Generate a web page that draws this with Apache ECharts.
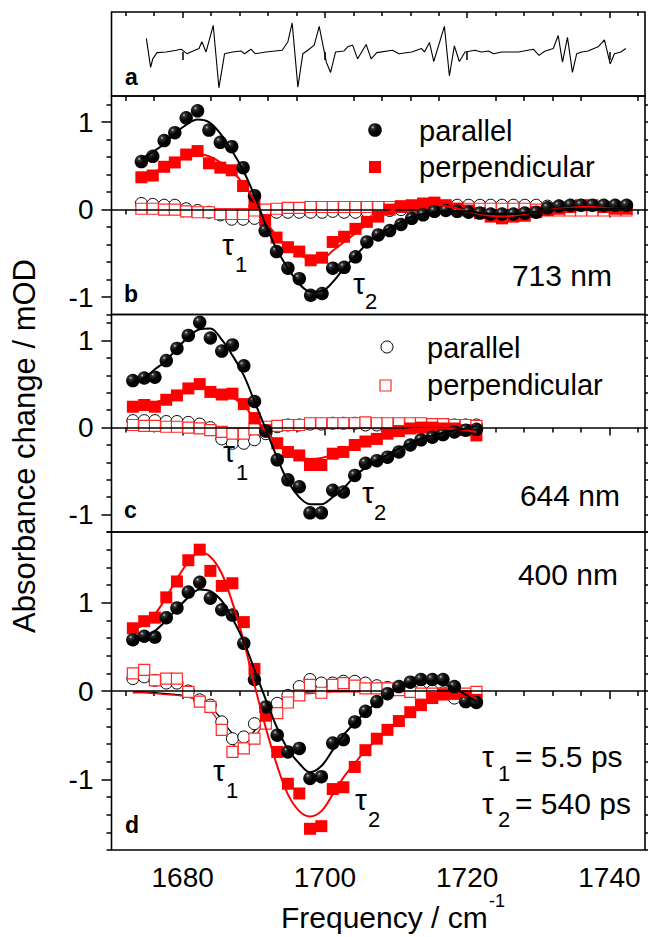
<!DOCTYPE html>
<html>
<head>
<meta charset="utf-8">
<script src="https://cdn.jsdelivr.net/npm/echarts@6/dist/echarts.min.js"></script>
<style>
  html, body { margin: 0; padding: 0; background: #fff; }
  #chart { width: 648px; height: 937px; }
</style>
</head>
<body>
<div id="chart"></div>
<script>
// ---------- axis ranges and ticks ----------
const freqMin = 1670, freqMax = 1745;
const freqMajor = [1680, 1700, 1720, 1740];
const freqMinor = [1672, 1676, 1684, 1688, 1692, 1696, 1704, 1708, 1712, 1716, 1724, 1728, 1732, 1736, 1744];
const yMajor = [-1, 0, 1];
const yMinorBC = [-1.2, -0.8, -0.6, -0.4, -0.2, 0.2, 0.4, 0.6, 0.8, 1.2];
const yMinorD = [-1.8, -1.6, -1.4, -1.2, -0.8, -0.6, -0.4, -0.2, 0.2, 0.4, 0.6, 0.8, 1.2, 1.4, 1.6, 1.8];

// ---------- (a) FTIR derivative trace ----------
const aFreq = [1674.9, 1675.5, 1675.8, 1676.4, 1677.7, 1679.1, 1679.8, 1680.6, 1681.4, 1682.3, 1682.7, 1683.3,
  1684.3, 1685.1, 1685.9, 1687.0, 1688.2, 1688.7, 1689.6, 1690.2, 1691.7, 1694.0, 1694.8, 1695.4, 1696.2,
  1696.9, 1697.6, 1698.5, 1699.2, 1700.2, 1700.8, 1701.5, 1702.7, 1703.2, 1703.9, 1704.6, 1705.8, 1706.5,
  1707.3, 1709.5, 1710.4, 1712.2, 1713.6, 1714.0, 1714.7, 1715.3, 1716.8, 1717.5, 1718.2, 1718.9, 1719.7,
  1721.1, 1722.0, 1723.0, 1723.7, 1724.9, 1727.2, 1729.3, 1730.1, 1730.9, 1732.1, 1732.8, 1733.4, 1734.1,
  1734.8, 1735.4, 1736.1, 1737.0, 1738.4, 1739.3, 1740.1, 1740.7, 1741.6, 1742.3];
const aVal = [1.33, -1.5, -0.67, -0.07, 0, 0.17, 0.27, -0.17, 0.07, 0.33, 1.0, 0,
  2.6, -3.5, -0.17, 0, 0.1, -0.17, 0.27, -0.17, 0, 0.17, 1.0, 2.83, -3.43,
  -0.17, 0.17, 0.67, 2.5, -1.0, -2.0, 0, 0.1, 0.5, 0.67, -0.67, 0.73, -0.67,
  -0.07, 0.17, -0.17, 0, 0.33, 0, 0.93, -0.93, 2.5, -2.33, 0.6, -0.93, 0,
  0.17, 0, 0.1, -0.17, 0, 0, 0.27, -0.33, 0.07, 0.33, 1.6, -1.0, 1.43,
  -2.0, -0.17, 0, 0.1, 0.5, 1.17, -1.17, -0.17, 0, 0.33];

// ---------- (b) 713 nm ----------
const bFreq = [1674.2, 1675.8, 1677.4, 1678.9, 1680.5, 1682.1, 1683.7, 1685.3, 1686.9, 1688.5,
  1690.1, 1691.6, 1693.2, 1694.8, 1696.4, 1698.0, 1699.6, 1701.1, 1702.7, 1704.3,
  1705.9, 1707.5, 1709.1, 1710.7, 1712.2, 1713.8, 1715.4, 1717.0, 1718.6, 1720.2,
  1721.8, 1723.3, 1724.9, 1726.5, 1728.1, 1729.7, 1731.3, 1732.9, 1734.5, 1736.0,
  1737.6, 1739.2, 1740.8, 1742.4];
const bPar = [0.55, 0.61, 0.79, 0.88, 1.05, 1.13, 0.91, 0.77, 0.72, 0.48,
  0.16, -0.24, -0.48, -0.67, -0.79, -0.98, -0.96, -0.67, -0.66, -0.54,
  -0.37, -0.29, -0.24, -0.17, -0.10, -0.06, -0.02, -0.01, -0.02, -0.03,
  -0.04, -0.05, -0.05, -0.05, -0.04, -0.03, 0.02, 0.04, 0.05, 0.05,
  0.05, 0.05, 0.05, 0.05];
const bPerp = [0.37, 0.39, 0.49, 0.54, 0.63, 0.67, 0.53, 0.48, 0.45, 0.27,
  0.07, -0.12, -0.32, -0.43, -0.48, -0.58, -0.55, -0.37, -0.31, -0.22,
  -0.14, -0.08, 0.0, 0.03, 0.05, 0.07, 0.08, 0.05, 0.01, -0.01,
  -0.04, -0.08, -0.10, -0.08, -0.07, -0.03, -0.01, 0.01, 0.03, 0.05,
  0.05, 0.03, 0.01, 0.01];
const bParT1 = [0.07, 0.06, 0.05, 0.05, 0.01, -0.01, -0.03, -0.06, -0.11, -0.11,
  -0.10, -0.05, -0.03, -0.03, -0.03, -0.03, -0.03, -0.02, -0.03, -0.03,
  -0.02, -0.02, -0.01, 0.0, 0.01, 0.02, 0.03, 0.04, 0.05, 0.05,
  0.05, 0.05, 0.05, 0.05, 0.05, 0.05, 0.04, 0.04, 0.04, 0.04,
  0.03, 0.03, 0.03, 0.03];
const bPerpT1 = [0.01, 0.01, 0.0, 0.0, -0.02, -0.03, -0.03, -0.05, -0.05, -0.05,
  -0.01, 0.0, 0.01, 0.02, 0.02, 0.03, 0.03, 0.03, 0.03, 0.03,
  0.03, 0.03, 0.03, 0.04, 0.04, 0.03, 0.03, 0.02, 0.01, 0.01,
  0.01, 0.01, 0.01, 0.01, 0.01, 0.0, 0.0, -0.01, -0.01, -0.01,
  -0.01, -0.01, -0.01, -0.01];
const bParFit = [0.58, 0.66, 0.75, 0.87, 0.97, 1.03, 1.00, 0.87, 0.68, 0.45,
  0.16, -0.16, -0.45, -0.67, -0.85, -0.94, -0.93, -0.83, -0.67, -0.53,
  -0.39, -0.29, -0.21, -0.14, -0.08, -0.05, -0.03, -0.02, -0.02, -0.02,
  -0.04, -0.05, -0.05, -0.05, -0.04, -0.03, -0.01, 0.0, 0.01, 0.01,
  0.01, 0.01, 0.01, 0.01];
const bPerpFit = [0.38, 0.42, 0.49, 0.56, 0.62, 0.64, 0.61, 0.54, 0.44, 0.30,
  0.10, -0.12, -0.30, -0.43, -0.52, -0.56, -0.56, -0.47, -0.37, -0.27,
  -0.17, -0.09, -0.02, 0.03, 0.05, 0.06, 0.06, 0.04, 0.01, -0.02,
  -0.05, -0.07, -0.08, -0.07, -0.05, -0.03, -0.01, 0.01, 0.02, 0.03,
  0.03, 0.02, 0.01, 0.01];

// ---------- (c) 644 nm and (d) 400 nm share one frequency grid ----------
const cdFreq = [1673.0, 1674.6, 1676.1, 1677.7, 1679.2, 1680.8, 1682.4, 1683.9, 1685.5, 1687.0,
  1688.6, 1690.1, 1691.7, 1693.3, 1694.8, 1696.4, 1697.9, 1699.5, 1701.1, 1702.6,
  1704.2, 1705.7, 1707.3, 1708.8, 1710.4, 1712.0, 1713.5, 1715.1, 1716.6, 1718.2,
  1719.8, 1721.3];

const cPar = [0.54, 0.57, 0.58, 0.77, 0.91, 1.06, 1.21, 1.03, 0.88, 0.95,
  0.71, 0.30, -0.04, -0.37, -0.60, -0.68, -0.98, -0.98, -0.72, -0.74,
  -0.55, -0.41, -0.38, -0.34, -0.28, -0.20, -0.14, -0.11, -0.08, -0.05,
  -0.03, -0.02];
const cPerp = [0.24, 0.26, 0.24, 0.32, 0.37, 0.45, 0.50, 0.41, 0.38, 0.39,
  0.27, 0.11, -0.03, -0.18, -0.28, -0.32, -0.43, -0.43, -0.30, -0.28,
  -0.20, -0.16, -0.13, -0.07, -0.04, -0.01, 0.0, 0.0, -0.01, -0.01,
  -0.03, -0.09];
const cParT1 = [0.08, 0.08, 0.08, 0.07, 0.07, 0.06, 0.04, 0.0, -0.13, -0.18,
  -0.18, -0.14, -0.07, 0.01, 0.03, 0.03, 0.04, 0.04, 0.05, 0.05,
  0.05, 0.03, 0.03, 0.03, 0.03, 0.03, 0.03, 0.03, 0.03, 0.03,
  0.03, 0.03];
const cPerpT1 = [0.03, 0.02, 0.02, 0.01, 0.01, 0.0, -0.01, -0.03, -0.05, -0.07,
  -0.07, -0.02, 0.01, 0.02, 0.03, 0.03, 0.05, 0.05, 0.05, 0.05,
  0.05, 0.06, 0.05, 0.05, 0.05, 0.05, 0.05, 0.04, 0.04, 0.03,
  0.03, 0.02];
const cParFit = [0.52, 0.57, 0.67, 0.77, 0.91, 1.04, 1.13, 1.14, 1.01, 0.83,
  0.60, 0.30, -0.02, -0.35, -0.62, -0.80, -0.88, -0.88, -0.80, -0.70,
  -0.56, -0.46, -0.38, -0.31, -0.24, -0.18, -0.13, -0.09, -0.06, -0.03,
  -0.01, 0.02];
const cPerpFit = [0.24, 0.26, 0.29, 0.33, 0.38, 0.43, 0.46, 0.45, 0.41, 0.35,
  0.25, 0.11, -0.04, -0.18, -0.28, -0.34, -0.36, -0.35, -0.31, -0.26,
  -0.20, -0.15, -0.11, -0.07, -0.04, -0.02, -0.01, -0.01, -0.01, -0.02,
  -0.03, -0.05];

const dPar = [0.58, 0.62, 0.61, 0.83, 0.94, 1.12, 1.23, 1.05, 0.92, 0.86,
  0.54, 0.13, -0.18, -0.50, -0.69, -0.65, -0.99, -0.97, -0.59, -0.55,
  -0.35, -0.23, -0.12, -0.03, 0.05, 0.10, 0.13, 0.13, 0.13, 0.05,
  -0.12, -0.13];
const dPerp = [0.71, 0.79, 0.83, 1.06, 1.24, 1.48, 1.60, 1.36, 1.19, 1.22,
  0.78, 0.25, -0.28, -0.69, -1.05, -1.16, -1.56, -1.53, -1.11, -1.09,
  -0.86, -0.67, -0.54, -0.44, -0.34, -0.24, -0.16, -0.08, -0.04, -0.03,
  -0.06, -0.10];
const dParT1 = [0.14, 0.16, 0.12, 0.09, 0.09, 0.0, -0.10, -0.16, -0.35, -0.54,
  -0.52, -0.37, -0.23, -0.14, -0.05, 0.05, 0.13, 0.09, 0.09, 0.11,
  0.11, 0.09, 0.06, 0.04, 0.02, 0.0, 0.0, 0.0, -0.02, -0.08,
  -0.12, -0.12];
const dPerpT1 = [0.20, 0.24, 0.12, 0.14, 0.14, -0.01, -0.12, -0.18, -0.44, -0.69,
  -0.65, -0.54, -0.37, -0.25, -0.13, -0.05, 0.07, -0.02, 0.07, 0.09,
  0.06, 0.03, 0.03, 0.03, 0.01, -0.01, -0.03, -0.03, -0.03, -0.03,
  -0.03, -0.01];
const dParFit = [0.56, 0.60, 0.68, 0.80, 0.93, 1.06, 1.15, 1.13, 1.02, 0.82,
  0.56, 0.24, -0.10, -0.42, -0.66, -0.82, -0.92, -0.85, -0.67, -0.50,
  -0.36, -0.24, -0.13, -0.04, 0.04, 0.09, 0.11, 0.11, 0.08, 0.03,
  -0.04, -0.12];
const dPerpFit = [0.69, 0.76, 0.87, 1.06, 1.27, 1.46, 1.57, 1.52, 1.33, 1.00,
  0.56, 0.07, -0.42, -0.85, -1.17, -1.36, -1.42, -1.36, -1.17, -0.98,
  -0.82, -0.67, -0.55, -0.44, -0.33, -0.24, -0.16, -0.10, -0.07, -0.05,
  -0.06, -0.08];
const dParT1Fit = [-0.01, -0.01, -0.02, -0.03, -0.04, -0.06, -0.10, -0.18, -0.32, -0.48,
  -0.56, -0.45, -0.28, -0.13, -0.05, -0.02, -0.01, 0.0, 0.0, 0.0,
  0.0, 0.0, 0.0, 0.0, 0.0, 0.0, 0.0, 0.0, 0.0, 0.0,
  0.0, 0.0];
const dPerpT1Fit = [-0.02, -0.02, -0.03, -0.04, -0.05, -0.07, -0.12, -0.22, -0.40, -0.60,
  -0.67, -0.53, -0.33, -0.17, -0.08, -0.04, -0.03, -0.02, -0.01, -0.01,
  -0.01, -0.01, -0.01, -0.01, -0.01, -0.01, -0.01, -0.01, -0.01, -0.01,
  -0.01, -0.01];

// ---------- styling ----------
const FONT = '"Liberation Sans", Arial, sans-serif';
const RED = '#ff0000';
const ballStops = [
  { offset: 0, color: '#d0d0d0' },
  { offset: 0.16, color: '#333' },
  { offset: 0.5, color: '#050505' },
  { offset: 1, color: '#000' }
];
const ballFill = { type: 'radial', x: 0.34, y: 0.3, r: 0.75, colorStops: ballStops };
const PLOT_LEFT = 111.5, PLOT_W = 533.5;
const panels = [
  { top: 12, height: 84, min: -4.3, max: 3.9 },
  { top: 96, height: 218.5, min: -1.2, max: 1.3 },
  { top: 314.5, height: 217.5, min: -1.2, max: 1.3 },
  { top: 532, height: 318, min: -1.8, max: 1.8 }
];

const grid = panels.map(p => ({
  left: PLOT_LEFT, top: p.top, width: PLOT_W, height: p.height,
  show: true, borderColor: '#000', borderWidth: 1.6, backgroundColor: 'transparent'
}));

const tickStyle = { color: '#000', width: 1.5 };
const plainNumber = v => String(v);
function xAxisDef(gi, ticks, len, extra) {
  return Object.assign({
    type: 'value', gridIndex: gi, min: freqMin, max: freqMax, position: 'bottom',
    axisLine: { show: false }, splitLine: { show: false },
    axisTick: { show: true, customValues: ticks, length: len, inside: false, lineStyle: tickStyle },
    axisLabel: { show: false }
  }, extra || {});
}
function yAxisDef(gi, p, ticks, len, position, withLabels) {
  return {
    type: 'value', gridIndex: gi, min: p.min, max: p.max, position: position,
    axisLine: { show: false }, splitLine: { show: false },
    axisTick: { show: ticks.length > 0, customValues: ticks, length: len, inside: false, lineStyle: tickStyle },
    axisLabel: withLabels ? {
      show: true, customValues: yMajor, formatter: plainNumber,
      fontFamily: FONT, fontSize: 28, color: '#000', margin: 18
    } : { show: false }
  };
}

// x axes: 0-3 major (bottom of each panel), 4-7 minor, 8-9 top of panel a (inward)
const xAxis = [];
for (let i = 0; i < 4; i++) {
  xAxis.push(xAxisDef(i, freqMajor, 8, i === 3 ? {
    axisLabel: { show: true, customValues: freqMajor, formatter: plainNumber,
      fontFamily: FONT, fontSize: 28, color: '#000', margin: 13 }
  } : null));
}
for (let i = 0; i < 4; i++) xAxis.push(xAxisDef(i, freqMinor, 5));
xAxis.push(xAxisDef(0, freqMajor, 8, { position: 'top', axisTick: { show: true, customValues: freqMajor, length: 6, inside: true, lineStyle: tickStyle } }));
xAxis.push(xAxisDef(0, freqMinor, 5, { position: 'top', axisTick: { show: true, customValues: freqMinor, length: 4, inside: true, lineStyle: tickStyle } }));

// y axes: 0-3 primary per panel; extra tick axes for panels b, c, d
const yAxis = [yAxisDef(0, panels[0], [], 0, 'left', false)];
for (let i = 1; i < 4; i++) yAxis.push(yAxisDef(i, panels[i], yMajor, 10, 'left', true));
for (let i = 1; i < 4; i++) {
  const minor = i === 3 ? yMinorD : yMinorBC;
  yAxis.push(yAxisDef(i, panels[i], minor, 5, 'left', false));
  yAxis.push(yAxisDef(i, panels[i], yMajor, 10, 'right', false));
  yAxis.push(yAxisDef(i, panels[i], minor, 5, 'right', false));
}

const pts = (xs, ys) => xs.map((x, i) => [x, ys[i]]);

function zeroLine(pi) {
  return {
    type: 'line', xAxisIndex: pi, yAxisIndex: pi, data: [], silent: true, z: 1,
    markLine: {
      silent: true, symbol: ['none', 'none'], label: { show: false },
      lineStyle: { color: '#000', width: 1.5, type: 'solid' },
      data: [{ yAxis: 0 }], animation: false
    }
  };
}
function openCircles(pi, xs, ys) {
  return { type: 'scatter', xAxisIndex: pi, yAxisIndex: pi, data: pts(xs, ys), symbol: 'circle', symbolSize: 12,
    itemStyle: { color: '#fff', borderColor: '#000', borderWidth: 1, opacity: 1 }, z: 2 };
}
function openSquares(pi, xs, ys) {
  return { type: 'scatter', xAxisIndex: pi, yAxisIndex: pi, data: pts(xs, ys), symbol: 'rect', symbolSize: 11,
    itemStyle: { color: '#fff', borderColor: '#ff2a2a', borderWidth: 1.2, opacity: 1 }, z: 3 };
}
function redSquares(pi, xs, ys) {
  return { type: 'scatter', xAxisIndex: pi, yAxisIndex: pi, data: pts(xs, ys), symbol: 'rect', symbolSize: 12,
    itemStyle: { color: RED, opacity: 1 }, z: 4 };
}
function balls(pi, xs, ys) {
  return { type: 'scatter', xAxisIndex: pi, yAxisIndex: pi, data: pts(xs, ys), symbol: 'circle', symbolSize: 13.5,
    itemStyle: { color: ballFill, opacity: 1 }, z: 5 };
}
function fit(pi, xs, ys, color, width, z) {
  return { type: 'line', xAxisIndex: pi, yAxisIndex: pi, data: pts(xs, ys), smooth: 0.35, showSymbol: false,
    symbol: 'none', lineStyle: { color: color, width: width }, z: z };
}

const series = [
  { type: 'line', xAxisIndex: 0, yAxisIndex: 0, data: pts(aFreq, aVal), showSymbol: false, symbol: 'none',
    lineStyle: { color: '#000', width: 1.1 } },

  zeroLine(1),
  openCircles(1, bFreq, bParT1), openSquares(1, bFreq, bPerpT1),
  redSquares(1, bFreq, bPerp), balls(1, bFreq, bPar),
  fit(1, bFreq, bPerpFit, RED, 2, 6), fit(1, bFreq, bParFit, '#000', 2, 7),

  zeroLine(2),
  openCircles(2, cdFreq, cParT1), openSquares(2, cdFreq, cPerpT1),
  redSquares(2, cdFreq, cPerp), balls(2, cdFreq, cPar),
  fit(2, cdFreq, cPerpFit, RED, 2, 6), fit(2, cdFreq, cParFit, '#000', 2, 7),

  zeroLine(3),
  fit(3, cdFreq, dParT1Fit, '#000', 1.3, 2), fit(3, cdFreq, dPerpT1Fit, RED, 1.3, 2),
  openCircles(3, cdFreq, dParT1), openSquares(3, cdFreq, dPerpT1),
  redSquares(3, cdFreq, dPerp), balls(3, cdFreq, dPar),
  fit(3, cdFreq, dPerpFit, RED, 2, 6), fit(3, cdFreq, dParFit, '#000', 2, 7)
];

// ---------- text and legend keys ----------
function txt(text, x, y, size, opts) {
  return Object.assign({
    type: 'text', x: x, y: y, z: 20, silent: true,
    style: Object.assign({ text: text, font: size + 'px ' + FONT, fill: '#000', align: 'left', verticalAlign: 'middle' },
      (opts && opts.style) || {})
  }, opts && opts.rotation !== undefined ? { rotation: opts.rotation } : {});
}
const bold = (t, x, y) => ({ type: 'text', x: x, y: y, z: 20, silent: true,
  style: { text: t, font: 'bold 23px ' + FONT, fill: '#000', align: 'left', verticalAlign: 'middle' } });
const center = { style: { align: 'center' } };
const right = { style: { align: 'right' } };

const graphic = [
  bold('a', 125, 77), bold('b', 124, 294), bold('c', 124, 510), bold('d', 125, 825),

  // legend, panel b
  { type: 'circle', shape: { cx: 375, cy: 130, r: 6.8 }, style: { fill: new echarts.graphic.RadialGradient(0.34, 0.3, 0.75, ballStops) }, z: 20 },
  txt('parallel', 419, 131, 29),
  { type: 'rect', shape: { x: 369, y: 161, width: 12, height: 12 }, style: { fill: RED }, z: 20 },
  txt('perpendicular', 419, 167, 29),
  txt('713 nm', 612, 275, 30, right),

  // legend, panel c
  { type: 'circle', shape: { cx: 387, cy: 347, r: 6 }, style: { fill: '#fff', stroke: '#000', lineWidth: 1 }, z: 20 },
  txt('parallel', 427, 348, 29),
  { type: 'rect', shape: { x: 380, y: 380, width: 11, height: 11 }, style: { fill: '#fff', stroke: '#ff2a2a', lineWidth: 1.2 }, z: 20 },
  txt('perpendicular', 427, 385, 29),
  txt('644 nm', 620, 495, 30, right),

  txt('400 nm', 618, 574, 30, right),
  txt('τ', 482, 756, 30), txt('1', 498, 773, 22), txt('= 5.5 ps', 515, 756, 30),
  txt('τ', 482, 803, 30), txt('2', 498, 819, 22), txt('= 540 ps', 515, 803, 30),

  // component labels inside the panels
  txt('τ', 228, 244, 30, center), txt('1', 241, 264, 22, center),
  txt('τ', 359, 283, 30, center), txt('2', 371, 301, 22, center),
  txt('τ', 229, 451, 30, center), txt('1', 242, 472, 22, center),
  txt('τ', 368, 492, 30, center), txt('2', 380, 512, 22, center),
  txt('τ', 219, 770, 30, center), txt('1', 232, 790, 22, center),
  txt('τ', 361, 799, 30, center), txt('2', 374, 819, 22, center),

  // axis titles
  txt('Frequency / cm', 281, 917, 30),
  txt('-1', 489, 901, 18),
  txt('Absorbance change / mOD', 24, 446, 31, { rotation: Math.PI / 2, style: { align: 'center' } })
];

const chart = echarts.init(document.getElementById('chart'), null, { renderer: 'svg' });
chart.setOption({
  animation: false,
  backgroundColor: '#fff',
  grid: grid,
  xAxis: xAxis,
  yAxis: yAxis,
  series: series,
  graphic: graphic
});
</script>
</body>
</html>
